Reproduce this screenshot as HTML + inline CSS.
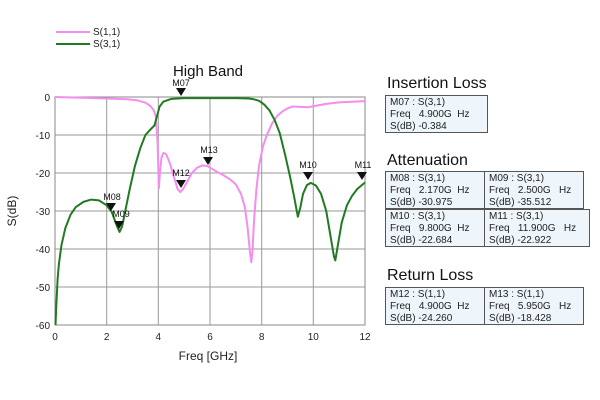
<!DOCTYPE html>
<html><head><style>
body{margin:0;width:600px;height:400px;background:#fff;overflow:hidden;position:relative;font-family:"Liberation Sans","Noto Sans CJK JP",sans-serif}
.t{position:absolute;font-size:16px;color:#111}
.b{position:absolute;background:#eef6fb;border:1px solid #555;font-size:10px;line-height:12px;padding:1px 4px;box-sizing:border-box;height:38px;color:#222;white-space:pre}
</style></head><body>
<svg width="600" height="400" style="position:absolute;left:0;top:0" font-family="Liberation Sans, sans-serif">
<g stroke="#999" stroke-width="1">
<line x1="106.7" y1="97" x2="106.7" y2="325"/><line x1="158.3" y1="97" x2="158.3" y2="325"/><line x1="210" y1="97" x2="210" y2="325"/><line x1="261.7" y1="97" x2="261.7" y2="325"/><line x1="313.3" y1="97" x2="313.3" y2="325"/>
<line x1="55" y1="135" x2="365" y2="135"/><line x1="55" y1="173" x2="365" y2="173"/><line x1="55" y1="211" x2="365" y2="211"/><line x1="55" y1="249" x2="365" y2="249"/><line x1="55" y1="287" x2="365" y2="287"/>
</g>
<rect x="55" y="97" width="310" height="228" fill="none" stroke="#888"/>
<g font-size="10" fill="#222" text-anchor="end">
<text x="50" y="101">0</text><text x="50" y="139">-10</text><text x="50" y="177">-20</text><text x="50" y="215">-30</text><text x="50" y="253">-40</text><text x="50" y="291">-50</text><text x="50" y="329">-60</text></g>
<g font-size="10" fill="#222" text-anchor="middle">
<text x="55" y="340">0</text><text x="106.7" y="340">2</text><text x="158.3" y="340">4</text><text x="210" y="340">6</text><text x="261.7" y="340">8</text><text x="313.3" y="340">10</text><text x="365" y="340">12</text></g>
<text x="208" y="360" font-size="12" text-anchor="middle" fill="#222">Freq [GHz]</text>
<text x="16" y="211" font-size="12" text-anchor="middle" fill="#222" transform="rotate(-90 16 211)">S(dB)</text>
<text x="208" y="76" font-size="15" text-anchor="middle" fill="#111">High Band</text>
<line x1="56" y1="32" x2="90" y2="32" stroke="#f58cf0" stroke-width="2"/><text x="93" y="35" font-size="10" fill="#222">S(1,1)</text>
<line x1="56" y1="44" x2="90" y2="44" stroke="#217a21" stroke-width="2"/><text x="93" y="47" font-size="10" fill="#222">S(3,1)</text>
<g transform="translate(55,97) scale(25.833,3.8)" fill="none" stroke-linejoin="round">
<polyline vector-effect="non-scaling-stroke" stroke="#f58cf0" stroke-width="2" points="0,0 1,0.2 2,0.4 2.8,0.6 3.2,0.9 3.5,1.5 3.7,2.4 3.82,3.5 3.9,5 3.97,12 4.02,24 4.06,20 4.12,16 4.2,14.7 4.3,15 4.45,17.5 4.6,21 4.75,24.3 4.85,25 4.95,24.3 5.1,22.5 5.3,20 5.5,18.6 5.7,18 5.9,18.2 6.1,19 6.3,19.8 6.5,20.5 6.8,21.8 7,23 7.2,25.5 7.35,29 7.45,34 7.55,41 7.6,43.5 7.65,40 7.7,33 7.8,24 7.9,18 8.05,13 8.2,10 8.4,7 8.6,5 8.8,3.8 9,3 9.2,2.5 9.5,2.6 9.8,2.7 10.1,2.3 10.5,1.8 11,1.4 12,1.1"/>
<polyline vector-effect="non-scaling-stroke" stroke="#217a21" stroke-width="2" points="0.02,60 0.05,55 0.1,48 0.15,44 0.25,39 0.4,34.5 0.6,31 0.8,29 1.1,27.6 1.4,27 1.7,27.2 2,28.5 2.2,30.3 2.4,34 2.5,35.5 2.6,34 2.75,29 2.9,24 3.1,18 3.3,13.5 3.5,10 3.7,8.5 3.85,7.5 3.95,5 4.05,2.5 4.2,1.2 4.5,0.5 5,0.3 7,0.3 7.5,0.4 7.7,0.6 7.9,1 8.1,2 8.3,3.5 8.5,6 8.7,9.5 8.9,15 9.1,21 9.25,26 9.4,31.5 9.5,29 9.6,25.5 9.75,23.2 9.9,22.6 10.1,23.3 10.3,25.5 10.5,30 10.65,36 10.8,42 10.85,43 10.95,39 11.1,33 11.3,28.5 11.5,26 11.7,24.2 12,22.5"/>
</g>
<g fill="#111" font-size="9" text-anchor="middle">
<path d="M176,88 h10 l-5,8z"/><text x="181" y="86">M07</text>
<path d="M106,203 h10 l-5,8z"/><text x="112" y="200">M08</text>
<path d="M114,221 h10 l-5,8z"/><text x="121" y="217">M09</text>
<path d="M176,180 h10 l-5,8z"/><text x="181" y="176">M12</text>
<path d="M203,157 h10 l-5,8z"/><text x="209" y="153">M13</text>
<path d="M303,172 h10 l-5,8z"/><text x="308" y="168">M10</text>
<path d="M357,172 h10 l-5,8z"/><text x="363" y="168">M11</text>
</g>
</svg>
<div class="t" style="left:387px;top:75px">Insertion Loss</div>
<div class="b" style="left:385px;top:95px;width:103px">M07 : S(3,1)
Freq   4.900G  Hz
S(dB) -0.384</div>
<div class="t" style="left:387px;top:152px">Attenuation</div>
<div class="b" style="left:385px;top:171px;width:100px">M08 : S(3,1)
Freq   2.170G  Hz
S(dB) -30.975</div>
<div class="b" style="left:484px;top:171px;width:100px">M09 : S(3,1)
Freq   2.500G   Hz
S(dB) -35.512</div>
<div class="b" style="left:385px;top:209px;width:100px">M10 : S(3,1)
Freq   9.800G  Hz
S(dB) -22.684</div>
<div class="b" style="left:484px;top:209px;width:106px">M11 : S(3,1)
Freq   11.900G   Hz
S(dB) -22.922</div>
<div class="t" style="left:387px;top:267px">Return Loss</div>
<div class="b" style="left:385px;top:287px;width:100px">M12 : S(1,1)
Freq   4.900G  Hz
S(dB) -24.260</div>
<div class="b" style="left:484px;top:287px;width:100px">M13 : S(1,1)
Freq   5.950G   Hz
S(dB) -18.428</div>
</body></html>
